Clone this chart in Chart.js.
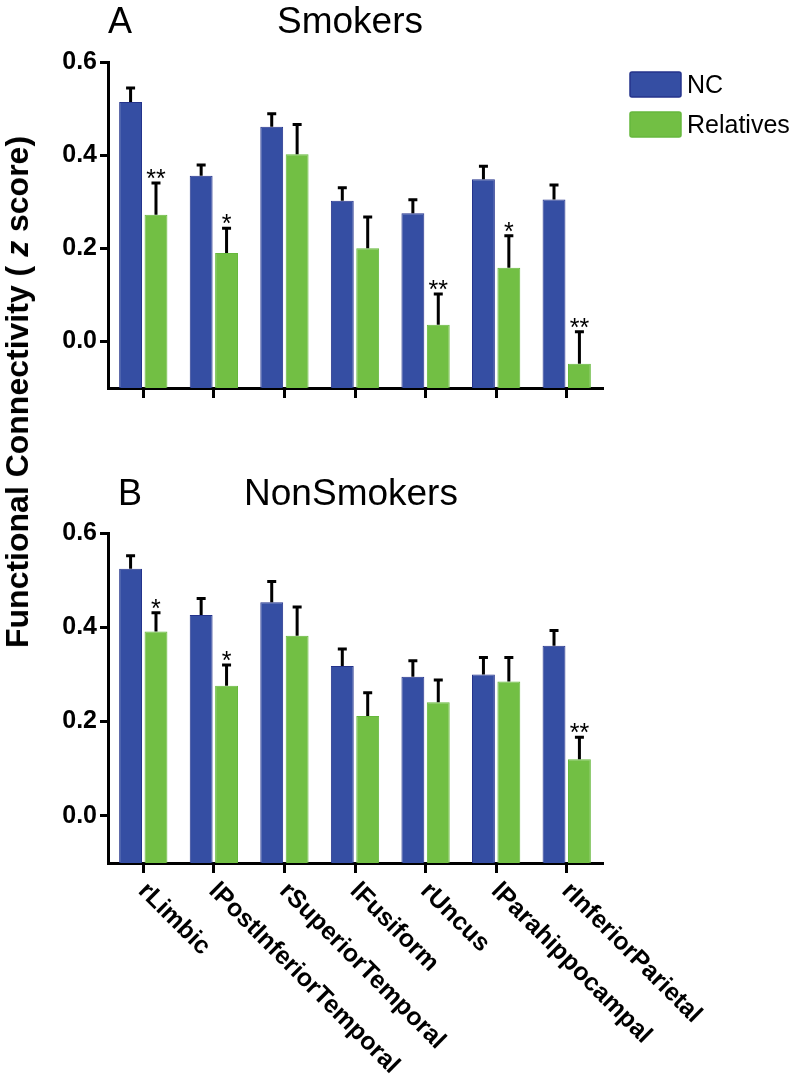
<!DOCTYPE html>
<html>
<head>
<meta charset="utf-8">
<script src="https://cdn.jsdelivr.net/npm/chart.js@4/dist/chart.umd.min.js"></script>
<style>
    body { margin: 0; background: #fff; }
    #wrap { position: relative; width: 800px; height: 1086px; overflow: hidden; }
    canvas { position: absolute; left: 0; }
    #chartA { top: 0; }
    #chartB { top: 440px; }
    #yTitle {
        position: absolute; left: 17px; top: 392px;
        transform: translate(-50%, -50%) rotate(-90deg);
        font: bold 32px "Liberation Sans", Arial, sans-serif;
        line-height: 32px; white-space: nowrap; color: #000;
    }
</style>
</head>
<body>
<div id="wrap">
    <canvas id="chartA" width="800" height="440"></canvas>
    <canvas id="chartB" width="800" height="646"></canvas>
    <div id="yTitle">Functional Connectivity ( <i>z</i> score)</div>
</div>
<script>
// Brain regions on the x axis
const regions = ['rLimbic', 'lPostInferiorTemporal', 'rSuperiorTemporal', 'lFusiform', 'rUncus', 'lParahippocampal', 'rInferiorParietal'];
const seriesNames = ['NC', 'Relatives'];
const yTicks = [0.0, 0.2, 0.4, 0.6];
const yMin = -0.1;
const yMax = 0.6;

// Panel A - Smokers
const smokersNC = [0.514, 0.356, 0.461, 0.302, 0.275, 0.348, 0.305];
const smokersNCErr = [0.030, 0.023, 0.028, 0.028, 0.029, 0.028, 0.031];
const smokersRel = [0.272, 0.190, 0.402, 0.200, 0.036, 0.158, -0.048];
const smokersRelErr = [0.068, 0.053, 0.064, 0.067, 0.066, 0.069, 0.069];
const smokersStars = ['**', '*', '', '', '**', '*', '**'];

// Panel B - NonSmokers
const nonSmokersNC = [0.524, 0.426, 0.453, 0.318, 0.295, 0.300, 0.361];
const nonSmokersNCErr = [0.028, 0.035, 0.044, 0.036, 0.034, 0.036, 0.032];
const nonSmokersRel = [0.391, 0.276, 0.382, 0.212, 0.241, 0.285, 0.120];
const nonSmokersRelErr = [0.040, 0.044, 0.061, 0.049, 0.047, 0.051, 0.047];
const nonSmokersStars = ['*', '*', '', '', '', '', '**'];

const FONT = '"Liberation Sans", Arial, sans-serif';
const BLUE = '#354ea3';
const BLUE_EDGE = '#24338c';
const GREEN = '#72bf44';
const GREEN_EDGE = '#66b83c';

// Error bars (upper only) plus significance stars
const errorBarPlugin = {
    id: 'errorBars',
    afterDatasetsDraw(chart) {
        const ctx = chart.ctx;
        const y = chart.scales.y;
        ctx.save();
        chart.data.datasets.forEach((ds, di) => {
            const meta = chart.getDatasetMeta(di);
            meta.data.forEach((bar, i) => {
                const top = y.getPixelForValue(ds.data[i] + ds.errors[i]);
                ctx.strokeStyle = '#000';
                ctx.lineWidth = 3;
                ctx.beginPath();
                ctx.moveTo(bar.x, bar.y);
                ctx.lineTo(bar.x, top);
                ctx.moveTo(bar.x - 4.5, top);
                ctx.lineTo(bar.x + 4.5, top);
                ctx.stroke();
                if (ds.stars && ds.stars[i]) {
                    ctx.fillStyle = '#000';
                    ctx.font = '25px ' + FONT;
                    ctx.textAlign = 'center';
                    ctx.textBaseline = 'alphabetic';
                    ctx.fillText(ds.stars[i], bar.x, top + 4);
                }
            });
        });
        ctx.restore();
    }
};

// Panel letter and panel title
const panelTitlePlugin = {
    id: 'panelTitle',
    afterDraw(chart, args, opts) {
        const ctx = chart.ctx;
        ctx.save();
        ctx.fillStyle = '#000';
        ctx.textBaseline = 'alphabetic';
        ctx.font = '36px ' + FONT;
        ctx.textAlign = 'left';
        ctx.fillText(opts.letter, opts.letterX, opts.baseline);
        ctx.font = '37px ' + FONT;
        ctx.textAlign = 'center';
        ctx.fillText(opts.text, opts.centerX, opts.baseline);
        ctx.restore();
    }
};

// Legend boxes drawn to the right of panel A
const boxLegendPlugin = {
    id: 'boxLegend',
    afterDraw(chart, args, opts) {
        if (!opts.show) return;
        const ctx = chart.ctx;
        ctx.save();
        chart.data.datasets.forEach((ds, i) => {
            const top = opts.y + i * 40;
            ctx.fillStyle = ds.backgroundColor;
            ctx.strokeStyle = ds.borderColor;
            ctx.lineWidth = 1.5;
            ctx.beginPath();
            ctx.roundRect(opts.x, top, 51, 25, 2);
            ctx.fill();
            ctx.stroke();
            ctx.fillStyle = '#000';
            ctx.font = '25px ' + FONT;
            ctx.textAlign = 'left';
            ctx.textBaseline = 'alphabetic';
            ctx.fillText(ds.label, opts.x + 57, top + 21);
        });
        ctx.restore();
    }
};

// Slanted category labels below panel B
const slantLabelPlugin = {
    id: 'slantLabels',
    afterDraw(chart, args, opts) {
        if (!opts.show) return;
        const ctx = chart.ctx;
        const x = chart.scales.x;
        const baseY = chart.chartArea.bottom;
        ctx.save();
        ctx.fillStyle = '#000';
        ctx.font = 'bold 25px ' + FONT;
        ctx.textAlign = 'left';
        ctx.textBaseline = 'alphabetic';
        chart.data.labels.forEach((lab, i) => {
            const px = x.getPixelForTick(i);
            ctx.save();
            ctx.translate(px - 6, baseY + 29);
            ctx.rotate(Math.PI / 4);
            ctx.fillText(lab, 0, 0);
            ctx.restore();
        });
        ctx.restore();
    }
};

function makeDataset(label, values, errors, stars, fill, edge) {
    return {
        label: label,
        data: values,
        errors: errors,
        stars: stars,
        backgroundColor: fill,
        borderColor: edge,
        borderWidth: 1,
        base: yMin,
        categoryPercentage: 0.72,
        barPercentage: 0.9
    };
}

function makeChart(canvasId, ncValues, ncErr, relValues, relErr, relStars, extra) {
    const ctx = document.getElementById(canvasId).getContext('2d');
    return new Chart(ctx, {
        type: 'bar',
        data: {
            labels: regions,
            datasets: [
                makeDataset(seriesNames[0], ncValues, ncErr, null, BLUE, BLUE_EDGE),
                makeDataset(seriesNames[1], relValues, relErr, relStars, GREEN, GREEN_EDGE)
            ]
        },
        options: {
            responsive: false,
            animation: false,
            devicePixelRatio: 1,
            layout: { padding: { left: 0, top: extra.top, right: 198, bottom: 0 } },
            plugins: {
                legend: { display: false },
                tooltip: { enabled: false },
                panelTitle: extra.title,
                boxLegend: extra.legend,
                slantLabels: { show: extra.slant }
            },
            scales: {
                x: {
                    offset: true,
                    grid: { offset: false, drawOnChartArea: false, drawTicks: true, tickLength: 10, color: '#000', lineWidth: 3 },
                    border: { display: true, color: '#000', width: 3 },
                    ticks: { display: false },
                    afterFit: s => { s.height = extra.xHeight; }
                },
                y: {
                    min: yMin,
                    max: yMax,
                    afterBuildTicks: s => { s.ticks = yTicks.map(v => ({ value: v })); },
                    grid: { drawOnChartArea: false, drawTicks: true, tickLength: 8, color: '#000', lineWidth: 3 },
                    border: { display: true, color: '#000', width: 3 },
                    ticks: {
                        color: '#000',
                        padding: 3,
                        font: { family: FONT, size: 25, weight: 'bold' },
                        callback: v => Number(v).toFixed(1)
                    },
                    afterFit: s => { s.width = 108; }
                }
            }
        },
        plugins: [errorBarPlugin, panelTitlePlugin, boxLegendPlugin, slantLabelPlugin]
    });
}

document.addEventListener('DOMContentLoaded', function () {
    makeChart('chartA', smokersNC, smokersNCErr, smokersRel, smokersRelErr, smokersStars, {
        top: 62,
        xHeight: 52,
        title: { letter: 'A', letterX: 108, text: 'Smokers', centerX: 350, baseline: 33 },
        legend: { show: true, x: 630, y: 72 },
        slant: false
    });
    makeChart('chartB', nonSmokersNC, nonSmokersNCErr, nonSmokersRel, nonSmokersRelErr, nonSmokersStars, {
        top: 93,
        xHeight: 223,
        title: { letter: 'B', letterX: 118, text: 'NonSmokers', centerX: 351, baseline: 65 },
        legend: { show: false },
        slant: true
    });
});
</script>
</body>
</html>
